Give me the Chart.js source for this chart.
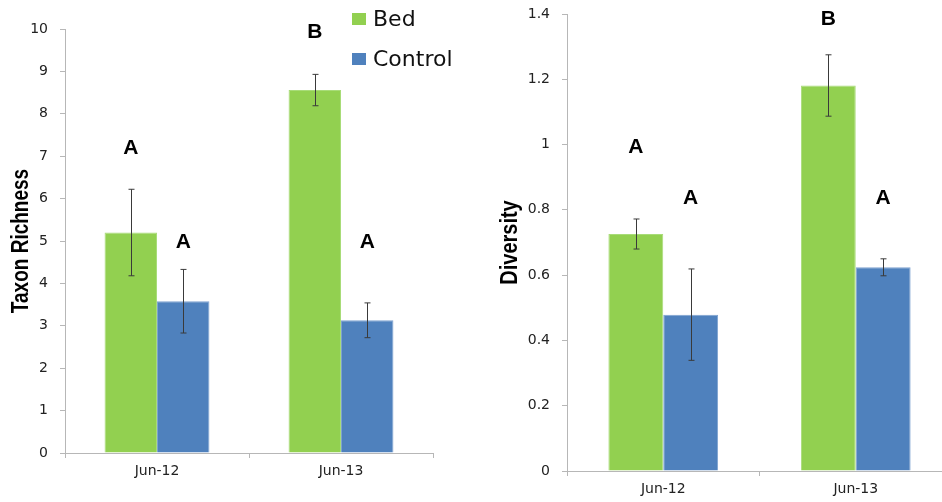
<!DOCTYPE html>
<html>
<head>
<meta charset="utf-8">
<script src="https://cdn.jsdelivr.net/npm/chart.js@4.4.0/dist/chart.umd.min.js"></script>
<style>
  html, body { margin: 0; padding: 0; background: #fff; width: 942px; height: 502px; overflow: hidden; }
  #left { position: absolute; left: 0; top: 0; }
  #right { position: absolute; left: 470px; top: 0; }
  .swatch { position: absolute; left: 352px; width: 14px; height: 12px; }
  .lbl { position: absolute; left: 373px; font-family: "DejaVu Sans", sans-serif; font-size: 22px; line-height: 24px; color: #111; }
</style>
</head>
<body>
<canvas id="left" width="470" height="502"></canvas>
<canvas id="right" width="490" height="502"></canvas>
<div class="swatch" style="top:13px;background:#92d050"></div>
<div class="lbl" style="top:7px">Bed</div>
<div class="swatch" style="top:53px;background:#4f81bd"></div>
<div class="lbl" style="top:47px">Control</div>
<script>
// categories
const categories = ['Jun-12', 'Jun-13'];

// taxon richness (left)
const richnessBed = [5.2, 8.56];
const richnessBedErr = [1.02, 0.37];
const richnessControl = [3.58, 3.13];
const richnessControlErr = [0.75, 0.41];
const richnessBedLetters = ['A', 'B'];
const richnessControlLetters = ['A', 'A'];
const richnessBedLetterY = [7.2, 9.93];
const richnessControlLetterY = [4.98, 4.98];

// diversity (right)
const diversityBed = [0.726, 1.181];
const diversityBedErr = [0.046, 0.094];
const diversityControl = [0.479, 0.624];
const diversityControlErr = [0.14, 0.026];
const diversityBedLetters = ['A', 'B'];
const diversityControlLetters = ['A', 'A'];
const diversityBedLetterY = [0.993, 1.385];
const diversityControlLetterY = [0.836, 0.836];

const GREEN = '#92d050';
const BLUE = '#4f81bd';
const AXIS = '#b7b7b7';

// error bars + significance letters + axis title (drawn a bit condensed)
const barExtras = {
  id: 'barExtras',
  afterDatasetsDraw(chart, args, opts) {
    const ctx = chart.ctx;
    const y = chart.scales.y;
    ctx.save();
    chart.data.datasets.forEach((ds, di) => {
      const meta = chart.getDatasetMeta(di);
      meta.data.forEach((bar, i) => {
        const v = ds.data[i], e = ds.errors[i];
        const x = Math.round(bar.x) + 0.5;
        const yt = y.getPixelForValue(v + e);
        const yb = y.getPixelForValue(v - e);
        ctx.strokeStyle = '#3a3a3a';
        ctx.lineWidth = 1;
        ctx.beginPath();
        ctx.moveTo(x, yt); ctx.lineTo(x, yb);
        ctx.moveTo(x - 3, yt); ctx.lineTo(x + 3, yt);
        ctx.moveTo(x - 3, yb); ctx.lineTo(x + 3, yb);
        ctx.stroke();

        ctx.fillStyle = '#000';
        ctx.font = 'bold 21px "Liberation Sans", Arial, sans-serif';
        ctx.textAlign = 'center';
        ctx.textBaseline = 'middle';
        ctx.fillText(ds.letters[i], bar.x, y.getPixelForValue(ds.letterY[i]));
      });
    });
    ctx.restore();

    // y title
    const a = chart.chartArea;
    ctx.save();
    ctx.translate(opts.titleX, (a.top + a.bottom) / 2);
    ctx.rotate(-Math.PI / 2);
    ctx.scale(1, 1.22);
    ctx.fillStyle = '#000';
    ctx.font = 'bold ' + opts.titleSize + 'px "Liberation Sans", Arial, sans-serif';
    ctx.textAlign = 'center';
    ctx.textBaseline = 'alphabetic';
    ctx.fillText(opts.title, 0, 0);
    ctx.restore();
  }
};

function makeChart(id, o) {
  return new Chart(document.getElementById(id), {
    type: 'bar',
    data: {
      labels: categories,
      datasets: [
        { label: 'Bed', data: o.bed, errors: o.bedErr, letters: o.bedLetters, letterY: o.bedLetterY,
          backgroundColor: GREEN, borderColor: '#a8dc78', borderWidth: 1,
          categoryPercentage: 0.57, barPercentage: 1.0 },
        { label: 'Control', data: o.control, errors: o.controlErr, letters: o.controlLetters, letterY: o.controlLetterY,
          backgroundColor: BLUE, borderColor: '#7ea2d0', borderWidth: 1,
          categoryPercentage: 0.57, barPercentage: 1.0 }
      ]
    },
    options: {
      responsive: false,
      animation: false,
      layout: { padding: { top: o.top, right: o.right, left: 0, bottom: 0 } },
      plugins: {
        legend: { display: false },
        tooltip: { enabled: false },
        barExtras: { title: o.title, titleSize: o.titleSize, titleX: o.titleX }
      },
      scales: {
        x: {
          grid: { drawOnChartArea: false, tickLength: 5, color: AXIS, offset: true },
          border: { color: AXIS },
          ticks: { color: '#222', padding: 5, font: { family: 'DejaVu Sans', size: 14 } },
          afterFit(s) { s.height = o.xHeight; }
        },
        y: {
          min: 0, max: o.max,
          grid: { drawOnChartArea: false, tickLength: 5, color: AXIS },
          border: { color: AXIS },
          ticks: {
            stepSize: o.step, color: '#222', padding: 12,
            font: { family: 'DejaVu Sans', size: 14 },
            callback: v => String(+v.toFixed(1))
          },
          afterFit(s) { s.width = o.yWidth; s.paddingTop = 0; s.paddingBottom = 0; }
        }
      }
    },
    plugins: [barExtras]
  });
}

makeChart('left', {
  bed: richnessBed, bedErr: richnessBedErr, bedLetters: richnessBedLetters, bedLetterY: richnessBedLetterY,
  control: richnessControl, controlErr: richnessControlErr, controlLetters: richnessControlLetters, controlLetterY: richnessControlLetterY,
  max: 10, step: 1, title: 'Taxon Richness', titleSize: 19, titleX: 28,
  top: 29, right: 37, yWidth: 65, xHeight: 49
});

makeChart('right', {
  bed: diversityBed, bedErr: diversityBedErr, bedLetters: diversityBedLetters, bedLetterY: diversityBedLetterY,
  control: diversityControl, controlErr: diversityControlErr, controlLetters: diversityControlLetters, controlLetterY: diversityControlLetterY,
  max: 1.4, step: 0.2, title: 'Diversity', titleSize: 20, titleX: 47,
  top: 14, right: 8, yWidth: 97, xHeight: 31
});
</script>
</body>
</html>
